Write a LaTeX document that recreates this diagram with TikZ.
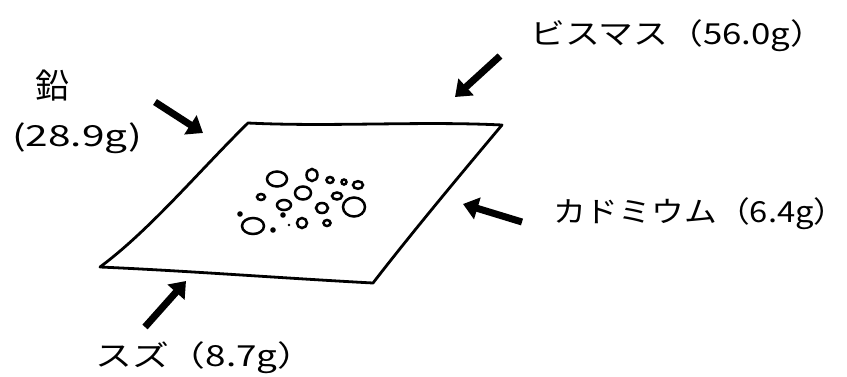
\documentclass[tikz,border=0pt]{standalone}
\usepackage{graphicx}
\usepackage{fontspec}
\setmainfont{Noto Sans CJK JP}
\usetikzlibrary{arrows.meta}
\newcommand\widelabel[2][1.2]{\scalebox{#1}[1]{#2}}
\begin{document}
\begin{tikzpicture}[x=1pt,y=-1pt,
  lbl/.style={inner sep=0pt, font=\fontsize{29}{31}\selectfont},
  pointer/.style={line width=7pt, -{Triangle[length=15pt,width=22pt]}},
  sheet/.style={line width=2.8pt, line join=round, line cap=round},
  grain/.style={line width=2.5pt},
  speck/.style={fill=black}]
\useasboundingbox (0,0) rectangle (847,376);

% the sheet seen in perspective
\coordinate (tl) at (248,123);
\coordinate (tr) at (502,125);
\coordinate (br) at (373,283);
\coordinate (bl) at (100,267);
\draw[sheet] (tl) .. controls (330,127) and (420,121) .. (tr)
  .. controls (460,175) and (410,235) .. (br)
  .. controls (280,278) and (190,271) .. (bl)
  .. controls (150,230) and (200,170) .. cycle;

% grains scattered on the sheet
\draw[grain] (277,179) ellipse [x radius=10pt, y radius=7.5pt];
\draw[grain] (312,175) ellipse [x radius=5.5pt, y radius=6pt];
\draw[grain] (330,180) ellipse [x radius=3.5pt, y radius=3pt];
\draw[grain] (344,182) ellipse [x radius=2.5pt, y radius=2.5pt];
\draw[grain] (358,185) ellipse [x radius=5pt, y radius=3.8pt];
\draw[grain] (303,193) ellipse [x radius=8pt, y radius=6.5pt];
\draw[grain] (337,196) ellipse [x radius=5pt, y radius=3.5pt];
\draw[grain] (354,207) ellipse [x radius=11pt, y radius=9.5pt];
\draw[grain] (261,197) ellipse [x radius=4pt, y radius=3pt];
\draw[grain] (284,205) ellipse [x radius=7pt, y radius=5pt];
\draw[grain] (322,208) ellipse [x radius=6pt, y radius=5pt];
\draw[grain] (253,226) ellipse [x radius=11pt, y radius=8pt];
\draw[grain] (302,223) ellipse [x radius=5pt, y radius=5pt];
\draw[grain] (327,223) ellipse [x radius=3.5pt, y radius=3pt];
\fill[speck] (240,214) circle [radius=2.8pt];
\fill[speck] (283,215) circle [radius=2.8pt];
\fill[speck] (273,230) circle [radius=2.8pt];
\fill[speck] (289,225) circle [radius=1.3pt];

% labels
\node[lbl, font=\fontsize{34}{36}\selectfont] (pb) at (52,86) {鉛};
\node[lbl, anchor=west] (pbw) at (12,138) {\widelabel[1.4]{(28.9g)}};
\node[lbl, anchor=west] (bi) at (530,36) {\widelabel{ビスマス（56.0g）}};
\node[lbl, anchor=west] (cd) at (553,214) {\widelabel[1.13]{カドミウム（6.4g）}};
\node[lbl, anchor=west] (sn) at (95,358) {\widelabel[1.27]{スズ（8.7g）}};

% arrows pointing at the sheet
\coordinate (pbT) at (155,102); \coordinate (pbH) at (203,133);
\coordinate (biT) at (500,56);  \coordinate (biH) at (455,97);
\coordinate (cdT) at (522,222); \coordinate (cdH) at (463,204);
\coordinate (snT) at (145,327); \coordinate (snH) at (186,281);
\draw[pointer] (pbT) -- (pbH);
\draw[pointer] (biT) -- (biH);
\draw[pointer] (cdT) -- (cdH);
\draw[pointer] (snT) -- (snH);
\end{tikzpicture}
\end{document}
